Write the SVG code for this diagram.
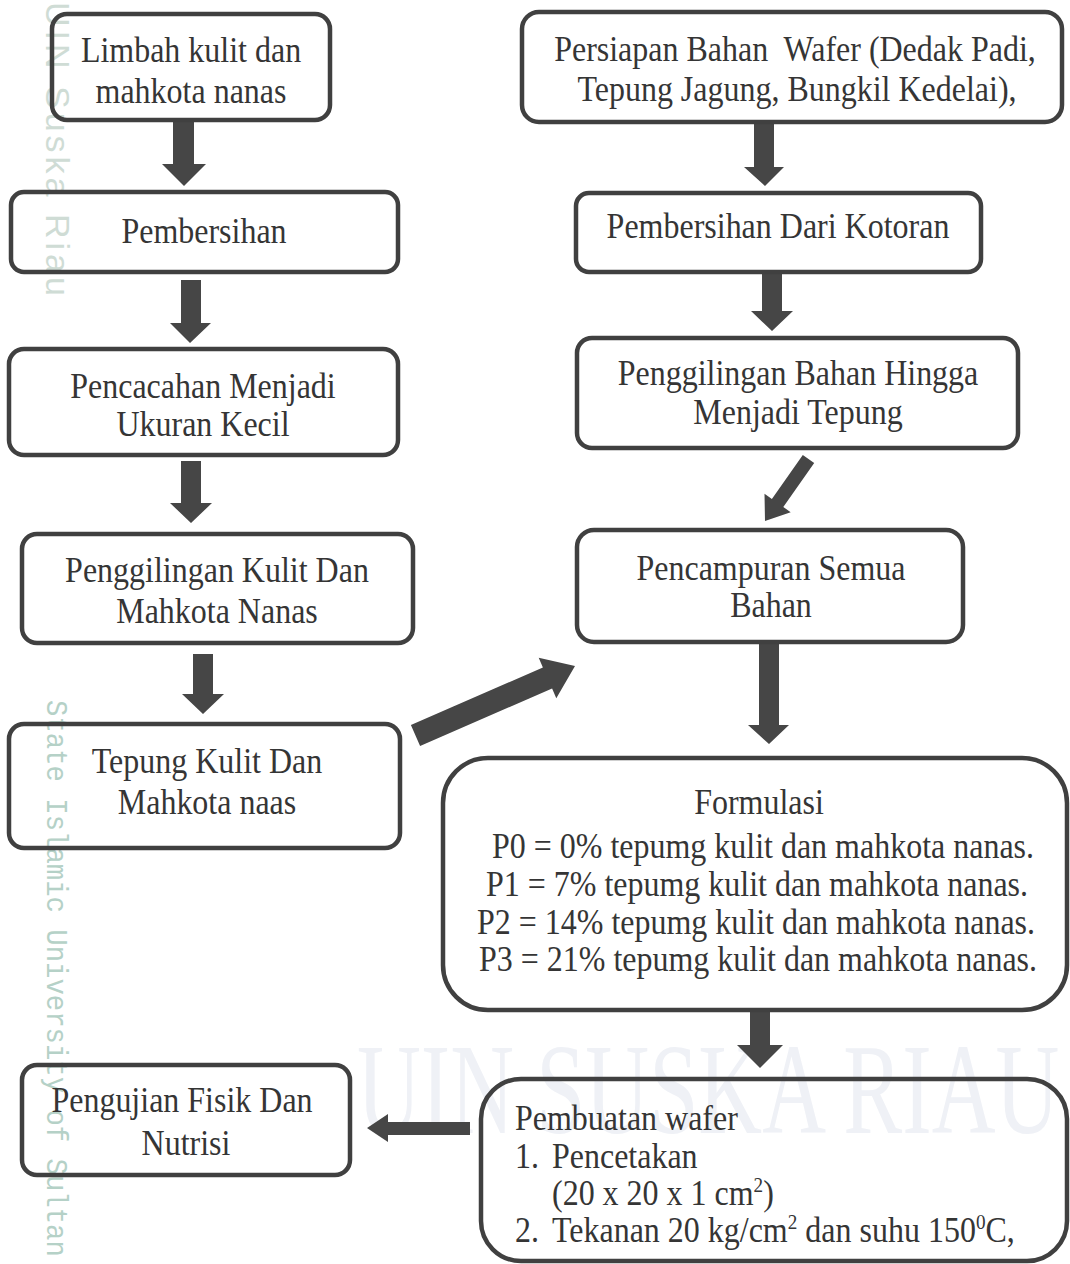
<svg xmlns="http://www.w3.org/2000/svg" width="1070" height="1264" viewBox="0 0 1070 1264">
  <style>
    .box { fill: none; stroke: #404040; stroke-width: 4.5; }
    .t { font-family: "Liberation Serif", "Times New Roman", serif; font-size: 35px; fill: #353535; text-anchor: middle; }
    .tl { font-family: "Liberation Serif", "Times New Roman", serif; font-size: 35px; fill: #353535; text-anchor: start; }
    .sup { font-size: 21px; }
    .arrow { fill: #464646; }
    .wm1 { font-family: "Liberation Sans", Arial, sans-serif; font-size: 34px; fill: #cfdcd5; letter-spacing: 4px; }
    .wm2 { font-family: "Liberation Mono", "Courier New", monospace; font-size: 30px; fill: #b5d1c7; }
    .wm3 { font-family: "Liberation Serif", "Times New Roman", serif; font-size: 130px; fill: #eff1f6; }
  </style>
  <rect x="0" y="0" width="1070" height="1264" fill="#ffffff"/>

  <g id="watermark">
    <text class="wm3" transform="matrix(0.68,0,0,1,357,1133)" x="0" y="0">UIN SUSKA RIAU</text>
    <text class="wm1" transform="translate(46,2) rotate(90)" x="0" y="0">UIN Suska Riau</text>
    <text class="wm2" transform="translate(47,700) rotate(90) scale(0.91,1)" x="0" y="0">State Islamic University of Sultan</text>
  </g>

  <g id="connectors">
    <polygon class="arrow" points="173,121 194,121 194,164 206,164 184,186 162,164 173,164"/>
    <polygon class="arrow" points="181,280 201,280 201,323 211,323 190,343 170,323 181,323"/>
    <polygon class="arrow" points="181,461 201,461 201,503 212,503 191,523 170,503 181,503"/>
    <polygon class="arrow" points="193,654 213,654 213,694 224,694 203,714 182,694 193,694"/>
    <polygon class="arrow" points="410.9,725 542.9,667.5 538.7,657.8 575,666 556.3,698.2 552.1,688.5 420.1,746"/>
    <polygon class="arrow" points="754,122 774,122 774,167 784,167 765,186 744,167 754,167"/>
    <polygon class="arrow" points="762,272 782,272 782,311 793,311 772,331 751,311 762,311"/>
    <polygon class="arrow" points="802.8,455 814.2,463 783.3,507 790.7,512.2 765,521 764.5,493.8 771.9,499"/>
    <polygon class="arrow" points="759,644 779,644 779,725 789,725 769,744 748,725 759,725"/>
    <polygon class="arrow" points="750,1010 770,1010 770,1045 783,1045 760,1068 737,1045 750,1045"/>
    <polygon class="arrow" points="470,1122 388,1122 388,1114 367,1128 388,1142 388,1135 470,1135"/>
  </g>

  <g id="n1">
    <rect class="box" x="52" y="14" width="278" height="106" rx="15"/>
    <text class="t" transform="matrix(0.914,0,0,1,191,62)">Limbah kulit dan</text>
    <text class="t" transform="matrix(0.914,0,0,1,191,103)">mahkota nanas</text>
  </g>
  <g id="n2">
    <rect class="box" x="11" y="192" width="387" height="80" rx="13"/>
    <text class="t" transform="matrix(0.914,0,0,1,204,243)">Pembersihan</text>
  </g>
  <g id="n3">
    <rect class="box" x="9" y="349" width="389" height="106" rx="15"/>
    <text class="t" transform="matrix(0.914,0,0,1,203,398)">Pencacahan Menjadi</text>
    <text class="t" transform="matrix(0.914,0,0,1,203,436)">Ukuran Kecil</text>
  </g>
  <g id="n4">
    <rect class="box" x="22" y="534" width="391" height="109" rx="15"/>
    <text class="t" transform="matrix(0.914,0,0,1,217,582)">Penggilingan Kulit Dan</text>
    <text class="t" transform="matrix(0.914,0,0,1,217,623)">Mahkota Nanas</text>
  </g>
  <g id="n5">
    <rect class="box" x="9" y="724" width="391" height="124" rx="15"/>
    <text class="t" transform="matrix(0.914,0,0,1,207,773)">Tepung Kulit Dan</text>
    <text class="t" transform="matrix(0.914,0,0,1,207,814)">Mahkota naas</text>
  </g>
  <g id="n6">
    <rect class="box" x="522" y="12" width="540" height="110" rx="17"/>
    <text class="t" transform="matrix(0.914,0,0,1,795,61)">Persiapan Bahan&#160; Wafer (Dedak Padi,</text>
    <text class="t" transform="matrix(0.914,0,0,1,797,101)">Tepung Jagung, Bungkil Kedelai),</text>
  </g>
  <g id="n7">
    <rect class="box" x="576" y="193" width="405" height="79" rx="13"/>
    <text class="t" transform="matrix(0.914,0,0,1,778,238)">Pembersihan Dari Kotoran</text>
  </g>
  <g id="n8">
    <rect class="box" x="577" y="338" width="441" height="110" rx="15"/>
    <text class="t" transform="matrix(0.914,0,0,1,798,385)">Penggilingan Bahan Hingga</text>
    <text class="t" transform="matrix(0.914,0,0,1,798,424)">Menjadi Tepung</text>
  </g>
  <g id="n9">
    <rect class="box" x="577" y="530" width="386" height="112" rx="17"/>
    <text class="t" transform="matrix(0.914,0,0,1,771,580)">Pencampuran Semua</text>
    <text class="t" transform="matrix(0.914,0,0,1,771,617)">Bahan</text>
  </g>
  <g id="n10">
    <rect class="box" x="443" y="758" width="624" height="252" rx="45"/>
    <text class="t" transform="matrix(0.914,0,0,1,759,814)">Formulasi</text>
    <text class="t" transform="matrix(0.914,0,0,1,763,858)">P0 = 0% tepumg kulit dan mahkota nanas.</text>
    <text class="t" transform="matrix(0.914,0,0,1,757,896)">P1 = 7% tepumg kulit dan mahkota nanas.</text>
    <text class="t" transform="matrix(0.914,0,0,1,756,934)">P2 = 14% tepumg kulit dan mahkota nanas.</text>
    <text class="t" transform="matrix(0.914,0,0,1,758,971)">P3 = 21% tepumg kulit dan mahkota nanas.</text>
  </g>
  <g id="n11">
    <rect class="box" x="481" y="1079" width="586" height="182" rx="40"/>
    <text class="tl" transform="matrix(0.914,0,0,1,515,1130)">Pembuatan wafer</text>
    <text class="tl" transform="matrix(0.914,0,0,1,515,1168)">1.</text>
    <text class="tl" transform="matrix(0.914,0,0,1,552,1168)">Pencetakan</text>
    <text class="tl" transform="matrix(0.914,0,0,1,552,1205)">(20 x 20 x 1 cm<tspan class="sup" dy="-13">2</tspan><tspan dy="13">)</tspan></text>
    <text class="tl" transform="matrix(0.914,0,0,1,515,1242)">2.</text>
    <text class="tl" transform="matrix(0.914,0,0,1,552,1242)">Tekanan 20 kg/cm<tspan class="sup" dy="-13">2</tspan><tspan dy="13"> dan suhu 150</tspan><tspan class="sup" dy="-13">0</tspan><tspan dy="13">C,</tspan></text>
  </g>
  <g id="n12">
    <rect class="box" x="22" y="1065" width="328" height="110" rx="15"/>
    <text class="t" transform="matrix(0.914,0,0,1,182,1112)">Pengujian Fisik Dan</text>
    <text class="t" transform="matrix(0.914,0,0,1,186,1155)">Nutrisi</text>
  </g>
</svg>
